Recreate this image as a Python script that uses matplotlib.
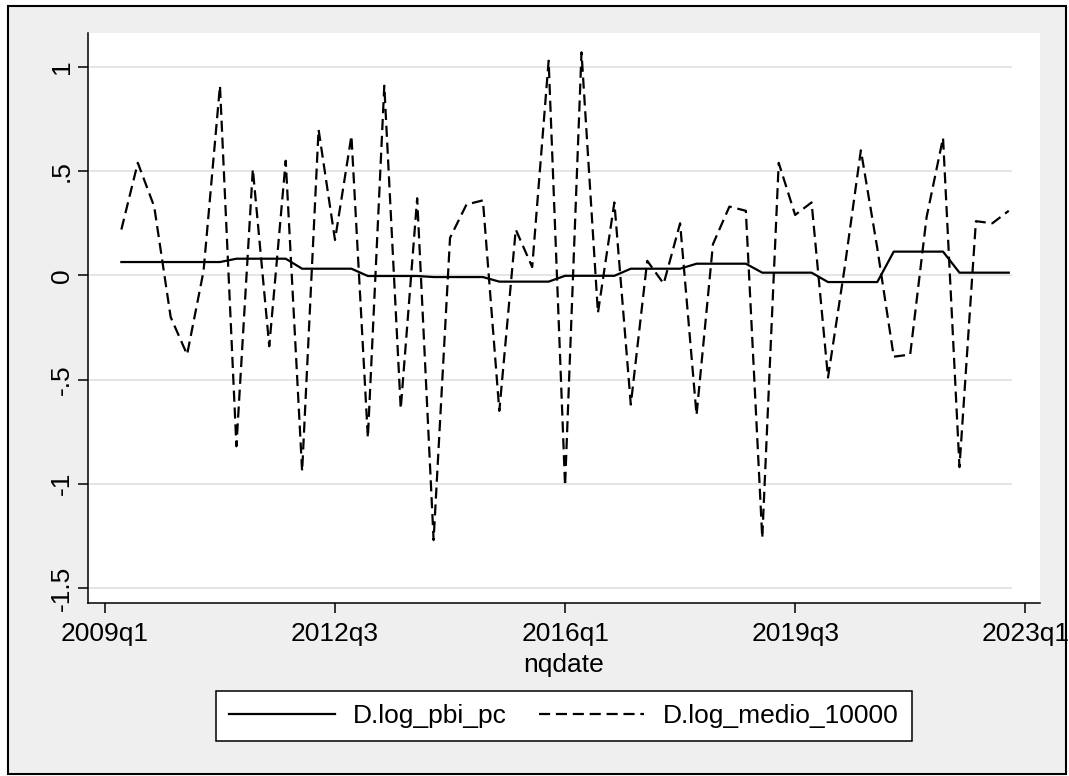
import matplotlib
matplotlib.use("Agg")
import matplotlib.pyplot as plt
from matplotlib.patches import Rectangle
import pandas as pd

plt.rcParams['font.family'] = ['Liberation Sans', 'DejaVu Sans']

# quarterly data, 2009q2 - 2022q4
quarters = pd.period_range("2009Q2", "2022Q4", freq="Q")

d_log_pbi_pc = [
    0.064, 0.064, 0.064,            # 2009
    0.064, 0.064, 0.064, 0.064,     # 2010
    0.080, 0.080, 0.080, 0.080,     # 2011
    0.032, 0.032, 0.032, 0.032,     # 2012
    -0.003, -0.003, -0.003, -0.003, # 2013
    -0.008, -0.008, -0.008, -0.008, # 2014
    -0.030, -0.030, -0.030, -0.030, # 2015
    -0.002, -0.002, -0.002, -0.002, # 2016
    0.032, 0.032, 0.032, 0.032,     # 2017
    0.056, 0.056, 0.056, 0.056,     # 2018
    0.013, 0.013, 0.013, 0.013,     # 2019
    -0.032, -0.032, -0.032, -0.032, # 2020
    0.114, 0.114, 0.114, 0.114,     # 2021
    0.013, 0.013, 0.013, 0.013,     # 2022
]

d_log_medio_10000 = [
    0.22, 0.54, 0.33,
    -0.20, -0.38, 0.02, 0.91,
    -0.82, 0.51, -0.34, 0.55,
    -0.94, 0.70, 0.17, 0.67,
    -0.78, 0.91, -0.64, 0.37,
    -1.27, 0.18, 0.34, 0.36,
    -0.65, 0.22, 0.04, 1.03,
    -1.01, 1.07, -0.18, 0.35,
    -0.62, 0.07, -0.04, 0.25,
    -0.67, 0.15, 0.33, 0.31,
    -1.26, 0.54, 0.29, 0.35,
    -0.49, 0.03, 0.60, 0.13,
    -0.39, -0.38, 0.28, 0.66,
    -0.92, 0.26, 0.25, 0.31,
]

xtick_labels = ["2009q1", "2012q3", "2016q1", "2019q3", "2023q1"]
ytick_values = [1, 0.5, 0, -0.5, -1, -1.5]
ytick_labels = ["1", ".5", "0", "-.5", "-1", "-1.5"]

base = pd.Period("2009Q1", freq="Q")
x = [(q - base).n for q in quarters]
xticks = [(pd.Period(s.upper(), freq="Q") - base).n for s in xtick_labels]

W, H = 1069, 776
fig = plt.figure(figsize=(W / 100, H / 100), dpi=100)
fig.patch.set_facecolor('white')
fig.patches.append(Rectangle((8 / W, 1 - 774 / H), (1066 - 8) / W, (774 - 6) / H,
                             transform=fig.transFigure, facecolor='#efefef',
                             edgecolor='black', lw=1.5, zorder=-1))

ax = fig.add_axes([88 / W, 1 - 603 / H, (1040 - 88) / W, (603 - 33) / H])
ax.set_facecolor('white')

# horizontal grid, stops a bit short of the right edge like stata
for v in ytick_values:
    ax.axhline(v, xmin=0, xmax=0.97, color='#e3e3e3', lw=1.3, zorder=0)

ax.plot(x, d_log_pbi_pc, color='black', lw=1.6, label='D.log_pbi_pc', zorder=3)
ax.plot(x, d_log_medio_10000, color='black', lw=1.6, linestyle=(0, (5, 2.6)),
        label='D.log_medio_10000', zorder=3)

ax.set_xlim(-1.03, 56.9)
ax.set_ylim(-1.572, 1.163)
ax.set_xticks(xticks)
ax.set_xticklabels(xtick_labels)
ax.set_yticks(ytick_values)
ax.set_yticklabels(ytick_labels, rotation=90, va='center')

for side in ['top', 'right']:
    ax.spines[side].set_visible(False)
for side in ['left', 'bottom']:
    ax.spines[side].set_linewidth(1.1)

ax.tick_params(length=7, width=1.1, labelsize=19, direction='out')
ax.tick_params(axis='y', pad=3)
ax.tick_params(axis='x', pad=7)
ax.set_xlabel('nqdate', fontsize=19, labelpad=5)

leg = fig.legend(loc='center', bbox_to_anchor=(564 / W, 1 - 716 / H), ncol=2,
                 frameon=True, fancybox=False, edgecolor='black', facecolor='white',
                 framealpha=1, fontsize=19, handlelength=4.0, handletextpad=0.7,
                 columnspacing=1.2, borderpad=0.5, borderaxespad=0)
leg.get_frame().set_linewidth(1.1)

fig.savefig('out.png', dpi=100)
